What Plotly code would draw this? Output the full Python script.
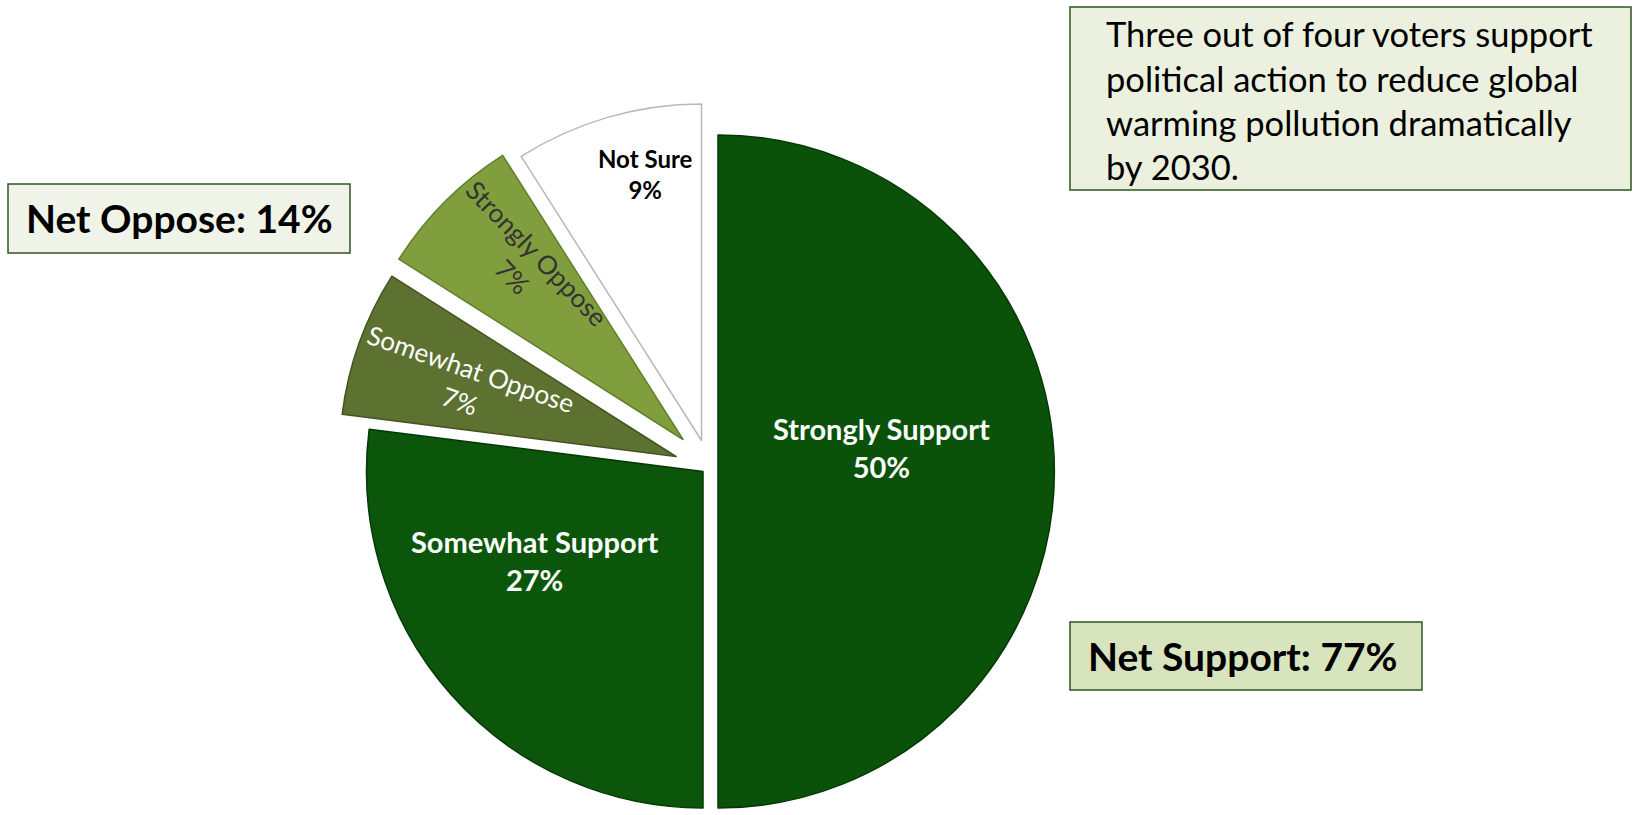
import math
import plotly.graph_objects as go

# ---------------- data ----------------
labels = ["Strongly Support", "Somewhat Support", "Somewhat Oppose", "Strongly Oppose", "Not Sure"]
values = [50, 27, 7, 7, 9]
pct_text = ["50%", "27%", "7%", "7%", "9%"]

summary_text = ["Three out of four voters support",
                "political action to reduce global",
                "warming pollution dramatically",
                "by 2030."]
net_oppose_text = "Net Oppose: 14%"
net_support_text = "Net Support: 77%"

# ---------------- style / layout ----------------
W, H = 1634, 815
FONT = "Lato"
R = 336.5                    # slice radius in px
CX, CY = 703.0, 471.5        # un-exploded centre in px
offsets = [(15, 0), (0, 0), (-27, -15), (-20, -32), (-1.5, -31)]   # explosion per slice (px)
fills = ["#0A5209", "#0B560A", "#5D7131", "#809E3E", "#FFFFFF"]
edges = ["#053805", "#053805", "#44541F", "#62802C", "#B8B8B8"]
label_frac = [0.49, 0.565, 0.66, 0.70, 0.81]
label_nudge = [-8.2, 13.6, -1.0, 2.8, 4.4]
label_angle = [0, 0, 19, 46, 0]
label_color = ["white", "white", "white", "#333333", "black"]
label_bold = [True, True, False, False, True]
label_size = [29, 29, 26, 26, 24]

fig = go.Figure()

total = sum(values)
for k in range(len(values)):
    cx = CX + offsets[k][0]
    cy = CY + offsets[k][1]
    fc = [fills[i] if i == k else "rgba(0,0,0,0)" for i in range(len(values))]
    lc = [edges[i] if i == k else "rgba(0,0,0,0)" for i in range(len(values))]
    fig.add_trace(go.Pie(
        labels=labels, values=values, sort=False, direction="clockwise", rotation=0,
        marker=dict(colors=fc, line=dict(color=lc, width=1.5)),
        textinfo="none", hoverinfo="skip", showlegend=False,
        domain=dict(x=[(cx - R) / W, (cx + R) / W],
                    y=[1 - (cy + R) / H, 1 - (cy - R) / H]),
    ))

    # slice label placed along the slice bisector
    a0 = 360.0 * sum(values[:k]) / total
    bis = a0 + 180.0 * values[k] / total + label_nudge[k]
    t = math.radians(bis)
    lx = cx + R * label_frac[k] * math.sin(t)
    ly = cy - R * label_frac[k] * math.cos(t)
    txt = f"{labels[k]}<br>{pct_text[k]}"
    if label_bold[k]:
        txt = f"<b>{labels[k]}</b><br><b>{pct_text[k]}</b>"
    fig.add_annotation(x=lx / W, y=1 - ly / H, xref="paper", yref="paper",
                       text=txt, showarrow=False, textangle=label_angle[k],
                       font=dict(family=FONT, size=label_size[k], color=label_color[k]),
                       xanchor="center", yanchor="middle", align="center")

# ---------------- boxes ----------------
def box(x0, y0, x1, y1, fill):
    fig.add_shape(type="rect", xref="paper", yref="paper",
                  x0=x0 / W, x1=x1 / W, y0=1 - y1 / H, y1=1 - y0 / H,
                  fillcolor=fill, line=dict(color="#2F5420", width=1.5), layer="below")

box(1070, 7, 1631, 190, "#EBF1DE")
for i, line in enumerate(summary_text):
    fig.add_annotation(x=1104 / W, y=1 - (34 + 44.3 * i) / H, xref="paper", yref="paper",
                       text=line, showarrow=False, xanchor="left", yanchor="middle",
                       font=dict(family=FONT, size=34.5, color="black"))

box(8, 184, 350, 253, "#F0F4E8")
fig.add_annotation(x=179 / W, y=1 - 218 / H, xref="paper", yref="paper",
                   text=f"<b>{net_oppose_text}</b>", showarrow=False,
                   xanchor="center", yanchor="middle",
                   font=dict(family=FONT, size=39, color="black"))

box(1070, 622, 1422, 690, "#D7E4BD")
fig.add_annotation(x=1243 / W, y=1 - 656 / H, xref="paper", yref="paper",
                   text=f"<b>{net_support_text}</b>", showarrow=False,
                   xanchor="center", yanchor="middle",
                   font=dict(family=FONT, size=39, color="black"))

fig.update_layout(width=W, height=H, margin=dict(l=0, r=0, t=0, b=0),
                  paper_bgcolor="white", plot_bgcolor="white")

fig.write_html("out.html", config={"displayModeBar": False},
               post_script="document.body.style.margin='0';document.body.style.overflow='hidden';")
